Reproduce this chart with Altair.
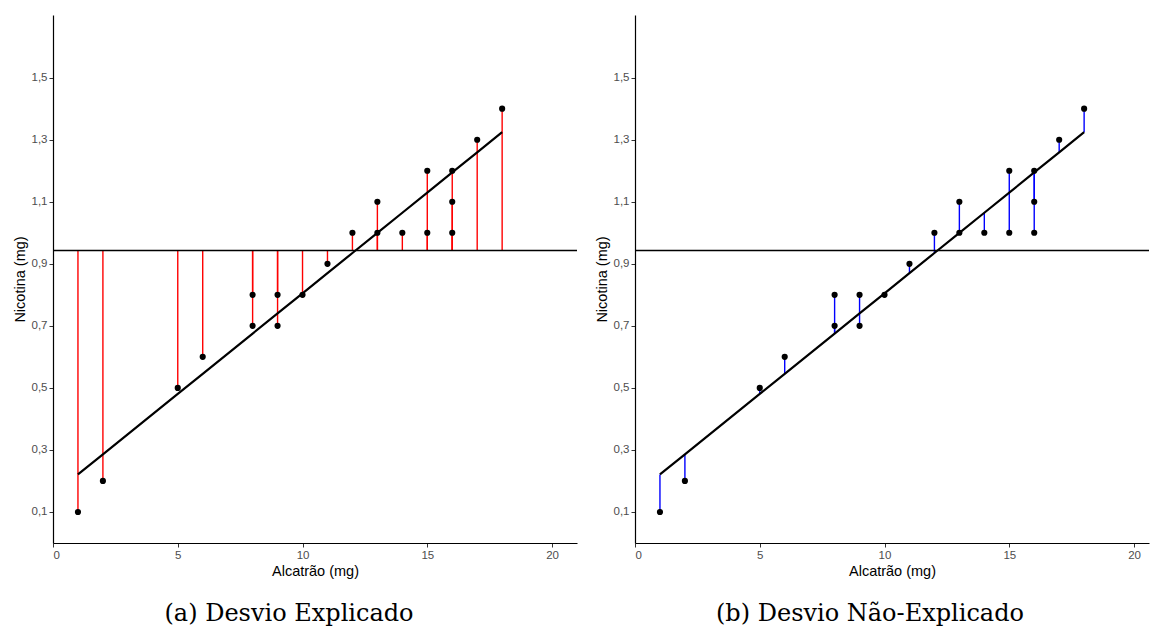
import altair as alt
import pandas as pd

# Data
alcatrao = [1, 2, 5, 6, 8, 8, 9, 9, 10, 11, 12, 13, 13, 14, 15, 15, 16, 16, 16, 17, 18]
nicotina = [0.1, 0.2, 0.5, 0.6, 0.8, 0.7, 0.8, 0.7, 0.8, 0.9, 1.0, 1.1, 1.0, 1.0,
            1.2, 1.0, 1.2, 1.1, 1.0, 1.3, 1.4]
linha_horizontal = 0.943          # horizontal reference line
intercepto = 0.156                # fitted line
inclinacao = 0.0649
y_ticks = [0.1, 0.3, 0.5, 0.7, 0.9, 1.1, 1.3, 1.5]
x_ticks = [0, 5, 10, 15, 20]
legenda_a = "(a) Desvio Explicado"
legenda_b = "(b) Desvio Não-Explicado"

df = pd.DataFrame({"x": alcatrao, "y": nicotina})
df_h = pd.DataFrame({"m": [linha_horizontal]})

Y_MAX = 1.702
H = 528
Y_TITLE = "Nicotina (mg)"
X_TITLE = "Alcatrão (mg)"
LABEL_EXPR = "replace(format(datum.value, '.1f'), '.', ',')"


def panel(seg_color, mode, width, xmax, caption, dx):
    xscale = alt.Scale(domain=[0, xmax], nice=False, zero=False)
    yscale = alt.Scale(domain=[0, Y_MAX], nice=False, zero=False)
    xaxis = alt.Axis(values=x_ticks, title=X_TITLE)
    yaxis = alt.Axis(values=y_ticks, labelExpr=LABEL_EXPR, title=Y_TITLE)

    base = alt.Chart(df).transform_calculate(
        fit=f"{intercepto} + {inclinacao} * datum.x",
        media=f"{linha_horizontal}",
    )
    y2field = "media:Q" if mode == "a" else "fit:Q"
    seg = base.mark_rule(color=seg_color, strokeWidth=1.4).encode(
        x=alt.X("x:Q", scale=xscale, axis=xaxis),
        y=alt.Y("y:Q", scale=yscale, axis=yaxis),
        y2=alt.Y2(y2field),
    )
    hline = alt.Chart(df_h).mark_rule(color="black", strokeWidth=1.5).encode(
        y=alt.Y("m:Q", scale=yscale, axis=yaxis)
    )
    reg = base.mark_line(color="black", strokeWidth=2.2).encode(
        x=alt.X("x:Q", scale=xscale, axis=xaxis),
        y=alt.Y("fit:Q", scale=yscale, axis=yaxis),
    )
    pts = base.mark_circle(color="black", opacity=1, size=38).encode(
        x=alt.X("x:Q", scale=xscale, axis=xaxis),
        y=alt.Y("y:Q", scale=yscale, axis=yaxis),
    )
    return alt.layer(seg, hline, reg, pts).properties(
        width=width,
        height=H,
        title=alt.TitleParams(
            caption,
            orient="bottom",
            anchor="middle",
            dx=dx,
            offset=24,
            font="DejaVu Serif",
            fontSize=24,
            fontWeight="normal",
            color="black",
        ),
    )


left = panel("#ff0000", "a", 524, 21.0, legenda_a, -26)
right = panel("#0000ff", "b", 514, 20.6, legenda_b, -22)

chart = (
    alt.hconcat(left, right, spacing=58, bounds="flush")
    .properties(padding={"left": 12, "top": 15, "right": 0, "bottom": 0})
    .configure_view(stroke=None)
    .configure_axis(
        grid=False,
        domainColor="black",
        domainWidth=1.2,
        tickColor="#333333",
        tickWidth=1,
        tickSize=4,
        labelFont="Liberation Sans",
        labelFontSize=11.5,
        labelColor="#4D4D4D",
        labelPadding=2,
        titleFont="Liberation Sans",
        titleFontSize=14.5,
        titleFontWeight="normal",
        titleColor="black",
        titlePadding=4,
    )
)

chart.save("out.html", embed_options={"renderer": "svg", "actions": False})
